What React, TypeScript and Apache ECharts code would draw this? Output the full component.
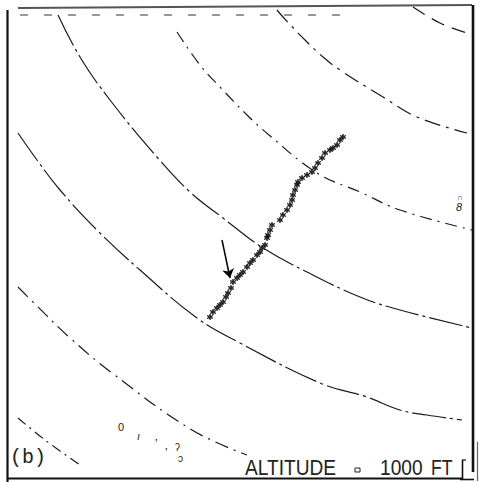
import React, { useEffect, useRef } from "react";
import * as echarts from "echarts";

// Track (x, y) in plot units
const trackX = [50.5, 51.25, 52.25, 53, 53.75, 54.5, 55, 55.75, 56.25, 57.25, 58, 58.75, 59.75, 60.5, 61.25, 62.25, 63, 63.5, 64.25, 64.75, 65, 65.5, 66, 68, 68.75, 69.75, 70.5, 71, 71.25, 71.75, 72.25, 72.5, 73.5, 74.75, 76, 76.75, 77.5, 78.5, 79.25, 80.5, 81.25, 82.25, 83, 83.75];
const trackY = [40.25, 41.5, 42.5, 43.25, 44, 45.25, 46.25, 47.5, 49, 50, 50.75, 51.5, 52.75, 53.75, 54.5, 55.75, 56.5, 57.5, 58.25, 60, 60.75, 62, 63.25, 64.5, 65.75, 67, 68.25, 69.5, 70.75, 72, 73.25, 74, 75, 75.75, 76.5, 77.5, 78.75, 80, 81.25, 82, 82.5, 83.25, 84.5, 85.25];

// Altitude contour arcs
const arc1X = [2.5, 9.25, 18];
const arc1Y = [15, 9.5, 3.25];
const arc2X = [2.5, 7.25, 15.25, 26, 46, 59.75];
const arc2Y = [47.75, 43, 35.25, 26.25, 12, 5.75];
const arc3X = [2.5, 7.25, 13, 22.25, 33, 47.25, 58, 78, 89.75, 98, 104.75, 113.5];
const arc3Y = [86.25, 79.5, 72, 62, 52, 40, 33.75, 23.75, 20.25, 17, 15.75, 14.5];
const arc4X = [12.5, 18, 25.5, 37.25, 45.5, 53.75, 63.75, 74.75, 88, 98, 116];
const arc4Y = [115.75, 105.25, 94.5, 80.25, 71.5, 65, 57.5, 51.5, 45.25, 42, 37.5];
const arc5X = [42.25, 48, 53, 59.75, 65.25, 77.25, 88, 98, 116];
const arc5Y = [111.5, 103.25, 97.75, 90.75, 85.75, 76.25, 71.5, 67, 62];
const arc6X = [67.25, 68.75, 74.25, 78.75, 83, 93.75, 102.25, 114.75];
const arc6Y = [117, 115.25, 109.5, 105.25, 102, 95.25, 90.25, 86.25];
const arc7X = [101.25, 108, 114.75];
const arc7Y = [117.75, 113.75, 111.25];
const topLineX = [3, 86.75];
const topLineY = [115.75, 115.75];

// Arrow pointing at the track
const arrowFrom = [53.5, 59.5];
const arrowTo = [55.5, 50];

const zip = (xs: number[], ys: number[]) => xs.map((x, i) => [x, ys[i]]);

const arcs = [
  { x: arc1X, y: arc1Y, dash: [10, 5, 2, 5] },
  { x: arc2X, y: arc2Y, dash: [14, 6, 2, 6] },
  { x: arc3X, y: arc3Y, dash: [34, 4, 3, 4] },
  { x: arc4X, y: arc4Y, dash: [34, 4, 3, 4] },
  { x: arc5X, y: arc5Y, dash: [12, 6, 2, 6] },
  { x: arc6X, y: arc6Y, dash: [16, 6, 3, 6] },
  { x: arc7X, y: arc7Y, dash: [14, 8] },
];

const STAR =
  "path://M0,-5L1.2,-1.5L4.8,-2.5L2.2,0L4.8,2.5L1.2,1.5L0,5L-1.2,1.5L-4.8,2.5L-2.2,0L-4.8,-2.5L-1.2,-1.5Z";

export default function App() {
  const ref = useRef<HTMLDivElement>(null);
  useEffect(() => {
    if (!ref.current) return;
    const chart = echarts.init(ref.current, null, { renderer: "svg" });
    const ink = "#1a1a1a";
    const series: any[] = arcs.map((a) => ({
      type: "line",
      data: zip(a.x, a.y),
      smooth: 0.4,
      showSymbol: false,
      lineStyle: { color: ink, width: 1.2, type: a.dash },
      z: 2,
    }));
    series.push({
      type: "line",
      data: zip(topLineX, topLineY),
      showSymbol: false,
      lineStyle: { color: "#333", width: 1, type: [8, 16] },
      z: 2,
    });
    series.push({
      type: "scatter",
      data: zip(trackX, trackY),
      symbol: STAR,
      symbolSize: 6,
      itemStyle: { color: "#000", borderColor: "#000", borderWidth: 0.7 },
      z: 5,
    });
    series.push({
      type: "lines",
      coordinateSystem: "cartesian2d",
      data: [{ coords: [arrowFrom, arrowTo] }],
      symbol: ["none", "arrow"],
      symbolSize: [0, 9],
      lineStyle: { color: "#000", width: 1.5, opacity: 1 },
      z: 5,
    });

    const txt = (x: number, y: number, text: string, fontSize: number, extra: any = {}) => ({
      type: "text",
      x,
      y,
      style: {
        text,
        fontSize,
        fontFamily: "Liberation Sans",
        fill: "#222",
        ...(extra.style || {}),
      },
      ...(extra.el || {}),
    });
    const ln = (x1: number, y1: number, x2: number, y2: number, w: number, c = "#111") => ({
      type: "line",
      shape: { x1, y1, x2, y2 },
      style: { stroke: c, lineWidth: w },
    });

    chart.setOption({
      animation: false,
      backgroundColor: "#fff",
      grid: { left: 8, right: 7, top: 6, bottom: 4 },
      xAxis: { type: "value", min: 0, max: 116, show: false },
      yAxis: { type: "value", min: 0, max: 118, show: false },
      series,
      graphic: [
        ln(7.5, 10, 7.5, 482, 2.2),
        ln(18, 8, 472, 5, 2, "#555"),
        ln(473, 5, 473, 472, 2.6),
        ln(8, 478.5, 462, 478.5, 2),
        ln(462.5, 460, 462.5, 479, 1.6),
        ln(462, 460, 466, 460, 1.2),
        ln(460, 479.5, 474, 479.5, 1.6),
        ln(477.5, 442, 477.5, 481, 1.2, "#666"),
        txt(10, 447, "(b)", 20, { style: { fontFamily: "Liberation Mono" } }),
        txt(245, 456, "ALTITUDE", 22, { el: { scaleX: 0.87 } }),
        {
          type: "rect",
          shape: { x: 355, y: 468, width: 5, height: 4 },
          style: { fill: "#fff", stroke: "#222", lineWidth: 1 },
        },
        txt(380, 456, "1000", 22, { el: { scaleX: 0.87 } }),
        txt(431, 456, "FT", 22, { el: { scaleX: 0.8 } }),
        txt(118, 421, "0", 11),
        txt(137, 430, "ı", 11, { style: { fontStyle: "italic" } }),
        txt(155, 438, "ʼ", 12),
        txt(165, 447, "ʼ", 12),
        txt(175, 442, "ʔ", 10),
        txt(178, 453, "ɔ", 10),
        txt(457, 193, "∩", 8),
        txt(456, 201, "8", 11, { style: { fontStyle: "italic" } }),
      ],
    });
    return () => chart.dispose();
  }, []);
  return <div ref={ref} style={{ width: 479, height: 482, position: "absolute", left: 0, top: 0 }} />;
}
